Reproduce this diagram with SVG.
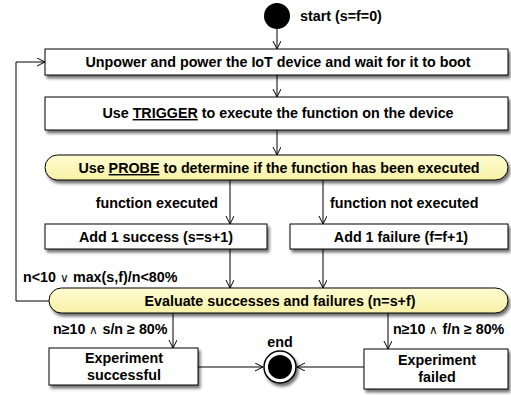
<svg xmlns="http://www.w3.org/2000/svg" width="511" height="395" viewBox="0 0 511 395">
<defs>
<filter id="sh" x="-10%" y="-30%" width="120%" height="170%">
<feDropShadow dx="2" dy="3" stdDeviation="1.5" flood-color="#000" flood-opacity="0.55"/>
</filter>
<marker id="arr" markerWidth="10" markerHeight="10" refX="8" refY="4" orient="auto" markerUnits="userSpaceOnUse">
<path d="M0,0 L8,4 L0,8" fill="none" stroke="#000" stroke-width="1"/>
</marker>
<linearGradient id="yel" x1="0" y1="0" x2="0" y2="1">
<stop offset="0" stop-color="#fffcd2"/>
<stop offset="1" stop-color="#f8f1a6"/>
</linearGradient>
</defs>
<style>
text{font-family:"Liberation Sans",Arial,sans-serif;font-weight:bold;font-size:14.3px;fill:#000}
.c{text-anchor:middle}
.box{fill:#fff;stroke:#000;stroke-width:1;filter:url(#sh)}
.dec{fill:url(#yel);stroke:#000;stroke-width:1;filter:url(#sh)}
.ln{fill:none;stroke:#000;stroke-width:1}
.op{font-weight:normal;font-size:12px}
.u{text-decoration:underline}
</style>
<g id="connectors">
<line class="ln" x1="277" y1="29" x2="277" y2="49" marker-end="url(#arr)"/>
<line class="ln" x1="277" y1="75" x2="277" y2="97" marker-end="url(#arr)"/>
<line class="ln" x1="277" y1="130" x2="277" y2="155" marker-end="url(#arr)"/>
<line class="ln" x1="230" y1="180" x2="230" y2="224" marker-end="url(#arr)"/>
<line class="ln" x1="323" y1="180" x2="323" y2="224" marker-end="url(#arr)"/>
<line class="ln" x1="230" y1="249" x2="230" y2="288" marker-end="url(#arr)"/>
<line class="ln" x1="323" y1="249" x2="323" y2="288" marker-end="url(#arr)"/>
<polyline class="ln" points="49,301 16,301 16,62 45,62" marker-end="url(#arr)"/>
<line class="ln" x1="173" y1="313" x2="173" y2="348" marker-end="url(#arr)"/>
<line class="ln" x1="388" y1="313" x2="388" y2="349" marker-end="url(#arr)"/>
<line class="ln" x1="198" y1="367" x2="263" y2="367" marker-end="url(#arr)"/>
<line class="ln" x1="364" y1="367" x2="297" y2="367" marker-end="url(#arr)"/>
<text x="218" y="208" text-anchor="end">function executed</text>
<text x="330" y="208">function not executed</text>
<text x="23" y="282">n&lt;10 <tspan class="op">∨</tspan> max(s,f)/n&lt;80%</text>
<text x="53" y="334">n≥10 <tspan class="op">∧</tspan> s/n ≥ 80%</text>
<text x="393" y="334">n≥10 <tspan class="op">∧</tspan> f/n ≥ 80%</text>
</g>
<g id="start">
<circle cx="277" cy="16" r="13" fill="#000"/>
<text x="300" y="21">start (s=f=0)</text>
</g>
<g id="power">
<rect class="box" x="45" y="49" width="463" height="26"/>
<text class="c" x="278" y="67">Unpower and power the IoT device and wait for it to boot</text>
</g>
<g id="trigger">
<rect class="box" x="45" y="97" width="463" height="33"/>
<text class="c" x="278" y="118">Use <tspan class="u">TRIGGER</tspan> to execute the function on the device</text>
</g>
<g id="probe">
<rect class="dec" x="45" y="155" width="463" height="25" rx="12.5" ry="12.5"/>
<text class="c" x="279" y="173">Use <tspan class="u">PROBE</tspan> to determine if the function has been executed</text>
</g>
<g id="success">
<rect class="box" x="45" y="224" width="222" height="25"/>
<text class="c" x="156" y="242">Add 1 success (s=s+1)</text>
</g>
<g id="failure">
<rect class="box" x="290" y="224" width="218" height="25"/>
<text class="c" x="401" y="242">Add 1 failure (f=f+1)</text>
</g>
<g id="evaluate">
<rect class="dec" x="49" y="288" width="459" height="25" rx="12.5" ry="12.5"/>
<text class="c" x="280" y="306">Evaluate successes and failures (n=s+f)</text>
</g>
<g id="exp-success">
<rect class="box" x="49" y="348" width="149" height="37"/>
<text class="c" x="124" y="363">Experiment</text>
<text class="c" x="124" y="380">successful</text>
</g>
<g id="exp-failed">
<rect class="box" x="364" y="349" width="144" height="40"/>
<text class="c" x="437" y="365">Experiment</text>
<text class="c" x="437" y="382">failed</text>
</g>
<g id="end">
<circle cx="280" cy="367" r="16" fill="#fff" stroke="#000" stroke-width="1.5" filter="url(#sh)"/>
<circle cx="280" cy="367" r="12" fill="#000"/>
<text class="c" x="280" y="347">end</text>
</g>
</svg>
